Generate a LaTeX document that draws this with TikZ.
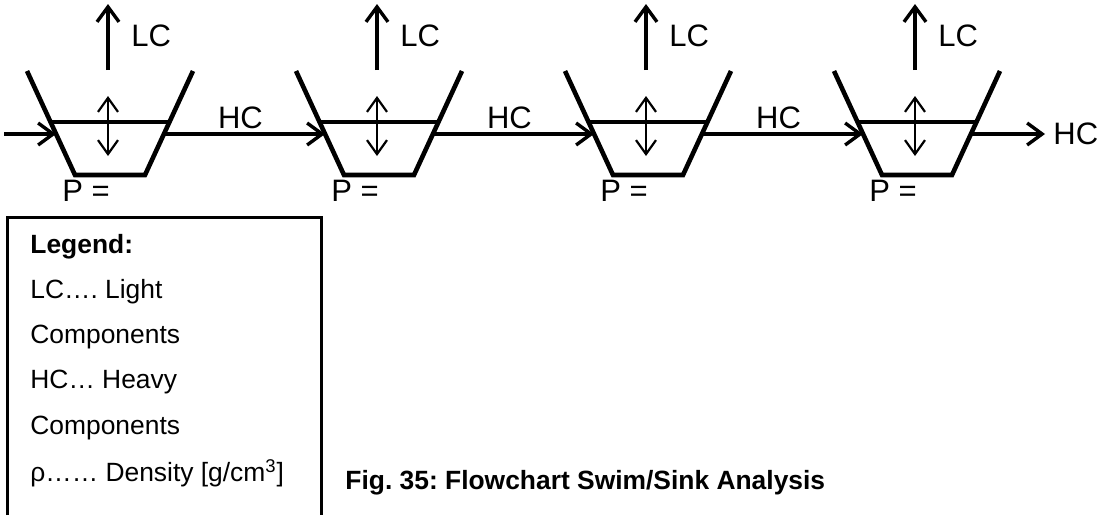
\documentclass[tikz,border=0pt]{standalone}
\usepackage{fontspec}
\setmainfont{Liberation Sans}
\usetikzlibrary{arrows.meta}
\frenchspacing

\begin{document}
\begin{tikzpicture}[
    x=0.5pt,y=-0.5pt,
    tank/.style={line width=2.3pt,line join=miter},
    level/.style={line width=1.6pt},
    arrow/.style={line width=1.7pt,-{Straight Barb[length=7.5pt,width=11pt]}},
    stir/.style={line width=1.1pt,{Straight Barb[length=7pt,width=10pt]}-{Straight Barb[length=7pt,width=10pt]}},
    lbl/.style={font=\fontsize{15.5}{18}\selectfont,inner sep=0pt},
    legtext/.style={font=\fontsize{13.2}{16}\selectfont,anchor=west,inner sep=0pt}
]
\useasboundingbox (0,0) rectangle (1099,515);

\foreach \i/\cx in {1/110,2/379,3/648,4/917}{
  \draw[tank] (\cx-83,71) -- (\cx-35,175) -- (\cx+35,175) -- (\cx+83,71);
  \draw[level] (\cx-59,122) -- (\cx+59,122);
  \coordinate (in\i) at (\cx-54,134);
  \coordinate (out\i) at (\cx+54,134);
  \coordinate (lcfoot\i) at (\cx-2,70);
  \coordinate (lctip\i) at (\cx-2,4);
  \coordinate (stirtop\i) at (\cx-2,96);
  \coordinate (stirbot\i) at (\cx-2,156);
  \node[lbl,anchor=west] (lc\i) at (\cx+21,36) {LC};
  \node[lbl] (p\i) at (\cx-24,191) {P =};
  \draw[arrow] (lcfoot\i) -- (lctip\i);
  \draw[stir] (stirtop\i) -- (stirbot\i);
}

\coordinate (feed) at (4,134);
\node[lbl,anchor=west,inner xsep=4pt] (hcout) at (1045,134) {HC};

\draw[arrow] (feed) -- (in1);
\draw[arrow] (out1) -- node[lbl,above=2pt,xshift=-2pt] {HC} (in2);
\draw[arrow] (out2) -- node[lbl,above=2pt,xshift=-2pt] {HC} (in3);
\draw[arrow] (out3) -- node[lbl,above=2pt,xshift=-2pt] {HC} (in4);
\draw[arrow] (out4) -- (hcout);

% legend
\draw[line width=1.5pt] (7,515) -- (7,217) -- (321,217) -- (321,515);
\node[legtext] (leg1) at (30,247) {\bfseries Legend:};
\node[legtext] (leg2) at (30,292) {LC…. Light};
\node[legtext] (leg3) at (30,337) {Components};
\node[legtext] (leg4) at (30,382) {HC… Heavy};
\node[legtext] (leg5) at (30,428) {Components};
\node[legtext] (leg6) at (30,473) {ρ…… Density [g/cm\textsuperscript{3}]};

\node[font=\fontsize{13.2}{16}\selectfont\bfseries,anchor=west,inner sep=0pt] (caption) at (345,483) {Fig. 35: Flowchart Swim/Sink Analysis};

\end{tikzpicture}
\end{document}
